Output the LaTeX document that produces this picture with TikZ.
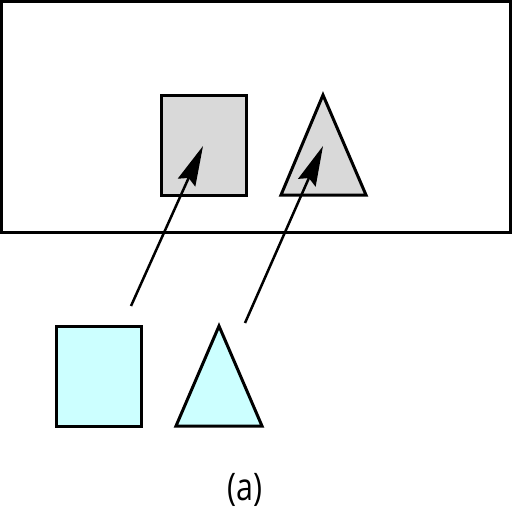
\documentclass[tikz,border=0pt]{standalone}
\usepackage{fontspec}
\setmainfont{Open Sans}
\newfontfamily\capfont{Open Sans}[FakeStretch=0.8]
\usetikzlibrary{arrows.meta}
\definecolor{shadegray}{HTML}{D9D9D9}
\definecolor{palecyan}{HTML}{CCFFFF}
\tikzset{
  shapebox/.style={rectangle,draw=black,line width=3pt,minimum width=85pt,minimum height=100pt,inner sep=0pt},
  shapetri/.style={draw=black,line width=3pt,line join=miter},
  mapline/.style={line width=2.5pt,-{Stealth[length=40pt,width=19pt,inset=5pt]}}
}
\begin{document}
\begin{tikzpicture}[x=1pt,y=-1pt]
\useasboundingbox (0,0) rectangle (512,512);
\draw[line width=3pt] (1.5,1.5) rectangle (510.5,232);

% image (inside the box)
\node[shapebox,fill=shadegray] (imgsq) at (203.5,145) {};
\draw[shapetri,fill=shadegray] (323,95) -- (366,195) -- (281,195) -- cycle;
\coordinate (imgsqc) at (203,146);
\coordinate (imgtric) at (323,146);

% originals (below)
\node[shapebox,fill=palecyan] (srcsq) at (98.5,376) {};
\draw[shapetri,fill=palecyan] (219,326) -- (262,426) -- (176,426) -- cycle;
\coordinate (srcsqt) at (131,306);
\coordinate (srctrit) at (245,323);

\draw[mapline] (srcsqt) -- (imgsqc);
\draw[mapline] (srctrit) -- (imgtric);

\node[font=\capfont\fontsize{38}{42}\selectfont] (cap) at (245,490) {(a)};
\end{tikzpicture}
\end{document}
